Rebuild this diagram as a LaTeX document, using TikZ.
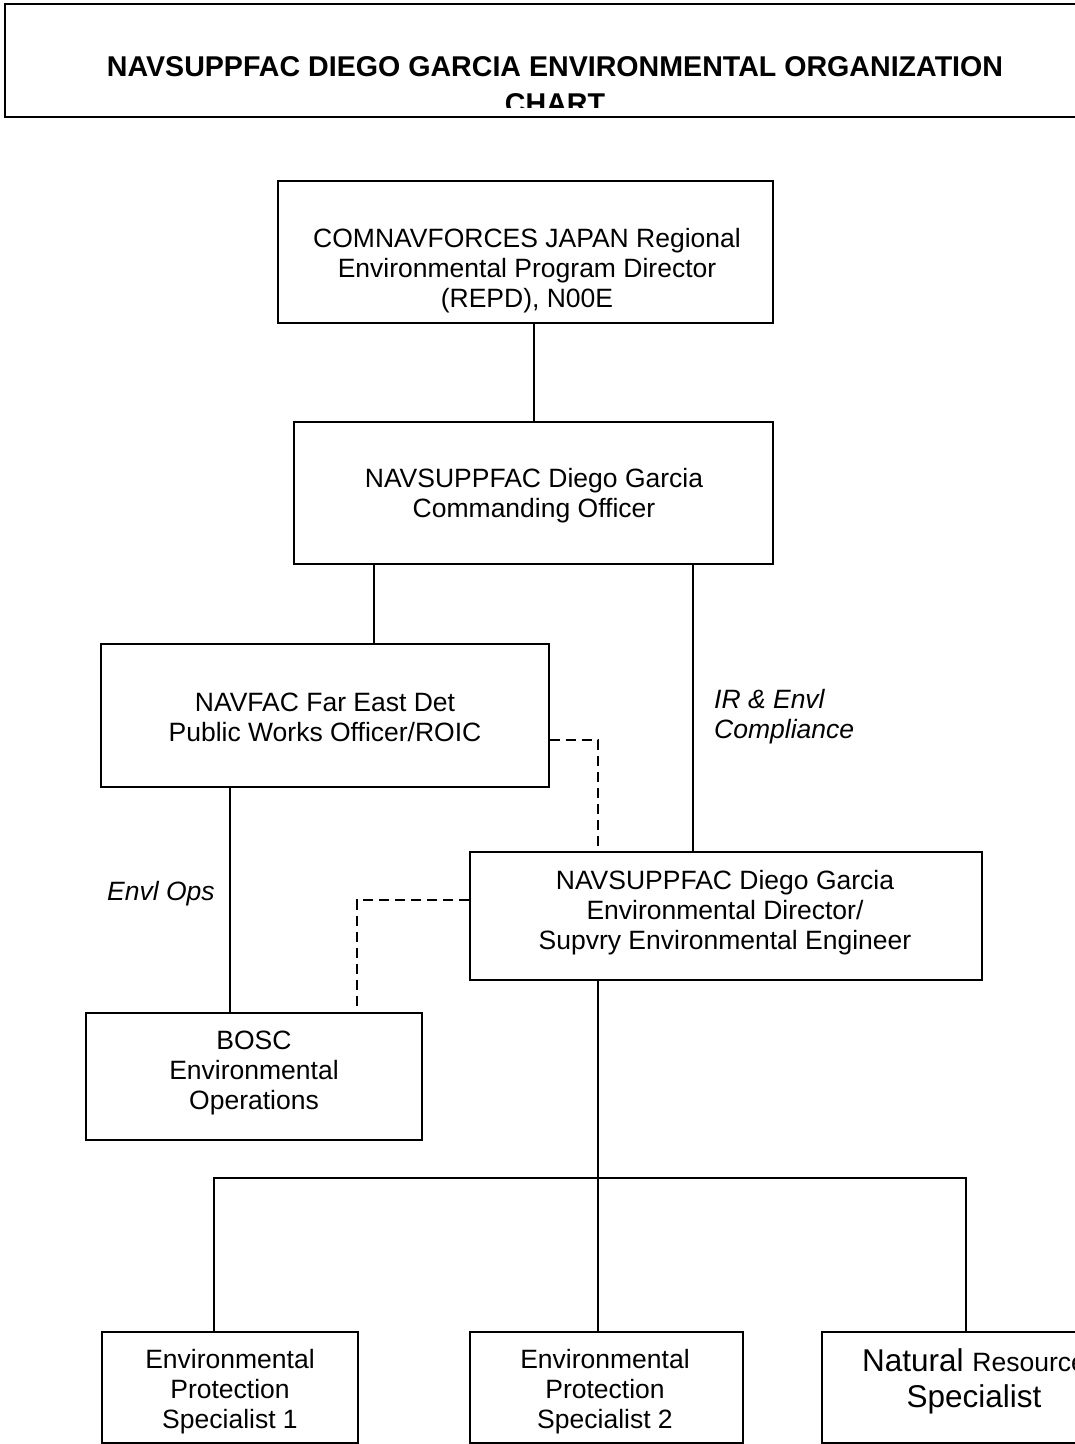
\documentclass[tikz,border=0pt]{standalone}
\usepackage{fontspec}
\setmainfont{Liberation Sans}
\begin{document}
\begin{tikzpicture}[x=1pt,y=-1pt,
  box/.style={draw,line width=1.4pt,rectangle,inner sep=0pt},
  txt/.style={align=center,font=\fontsize{26.5}{30}\selectfont,inner sep=0pt},
  lab/.style={align=left,font=\fontsize{26.5}{30}\selectfont\itshape,inner sep=0pt},
  conn/.style={line width=1.4pt},
  dconn/.style={line width=1.4pt,dash pattern=on 10pt off 6pt}]
\useasboundingbox (0,0) rectangle (1075,1444);
\clip (0,0) rectangle (1075,1444);
\fill[white] (0,0) rectangle (1075,1444);
% title
\draw[line width=1.4pt] (1090,4) -- (5,4) -- (5,117) -- (1090,117);
\begin{scope}
\clip (0,0) rectangle (1075,107);
\node[align=center,font=\fontsize{28.6}{37}\selectfont\bfseries,inner sep=0pt,anchor=base] (title) at (555,113)
  {NAVSUPPFAC DIEGO GARCIA ENVIRONMENTAL ORGANIZATION\\CHART};
\end{scope}
% boxes
\node[box,minimum width=495pt,minimum height=142pt] (b1) at (525.5,252) {};
\node[box,minimum width=479pt,minimum height=142pt] (b2) at (533.5,493) {};
\node[box,minimum width=448pt,minimum height=143pt] (b3) at (325,715.5) {};
\node[box,minimum width=512pt,minimum height=128pt] (b4) at (726,916) {};
\node[box,minimum width=336pt,minimum height=127pt] (b5) at (254,1076.5) {};
\node[box,minimum width=256pt,minimum height=111pt] (b6) at (230,1387.5) {};
\node[box,minimum width=273pt,minimum height=111pt] (b7) at (606.5,1387.5) {};
\node[box,minimum width=300pt,minimum height=111pt] (b8) at (972,1387.5) {};
% texts
\node[txt] (t1) at (527,271) {COMNAVFORCES JAPAN Regional\\Environmental Program Director\\(REPD), N00E};
\node[txt] (t2) at (534,496) {NAVSUPPFAC Diego Garcia\\Commanding Officer};
\node[txt] (t3) at (325,717) {NAVFAC Far East Det\\Public Works Officer/ROIC};
\node[txt] (t4) at (725,913) {NAVSUPPFAC Diego Garcia\\Environmental Director/\\Supvry Environmental Engineer};
\node[txt] (t5) at (254,1073) {BOSC\\Environmental\\Operations};
\node[txt] (t6) at (230,1392) {Environmental\\Protection\\Specialist 1};
\node[txt] (t7) at (605,1392) {Environmental\\Protection\\Specialist 2};
\node[align=center,inner sep=0pt,anchor=base,font=\fontsize{31.5}{36}\selectfont] (t8) at (974,1407)
  {Natural {\fontsize{26.5}{30}\selectfont Resource}\\Specialist};
% labels
\node[lab,anchor=west] (l1) at (714,717) {IR \& Envl\\Compliance};
\node[lab,anchor=west] (l2) at (107,894) {Envl Ops};
% connectors
\draw[conn] (b1.south -| 534,0) -- (b2.north -| 534,0);
\draw[conn] (b2.south -| 374,0) -- (b3.north -| 374,0);
\draw[conn] (b2.south -| 693,0) -- (b4.north -| 693,0);
\draw[conn] (b3.south -| 230,0) -- (b5.north -| 230,0);
\draw[dconn] (b3.east |- 0,740) -| (b4.north -| 598,0);
\draw[dconn] (b4.west |- 0,900) -| (b5.north -| 357,0);
\coordinate (hub) at (598,1178);
\draw[conn] (b4.south -| hub) -- (hub);
\draw[conn] (b6.north -| 214,0) |- (hub) -| (b8.north -| 966,0);
\draw[conn] (hub) -- (b7.north -| hub);
\end{tikzpicture}
\end{document}
